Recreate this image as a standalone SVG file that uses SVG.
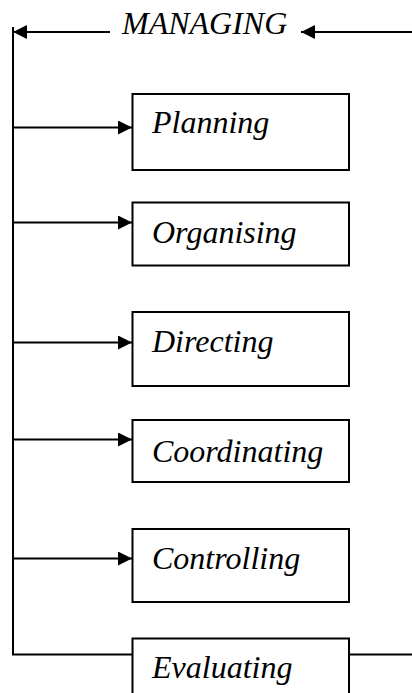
<svg xmlns="http://www.w3.org/2000/svg" width="412" height="693" viewBox="0 0 412 693">
<defs>
<marker id="ah" markerWidth="14" markerHeight="14" refX="14" refY="7" orient="auto" markerUnits="userSpaceOnUse">
<path d="M0,0 L14,7 L0,14 Z" fill="#000"/>
</marker>
</defs>
<style>
.ln{stroke:#000;stroke-width:2;fill:none}
.bx{stroke:#000;stroke-width:2;fill:#fff}
text{font-family:'Liberation Serif','Times New Roman',serif;font-style:italic;font-size:32px;fill:#000}
</style>
<g id="connectors">
<line class="ln" x1="110" y1="32" x2="13" y2="32" marker-end="url(#ah)"/>
<line class="ln" x1="412" y1="32" x2="301" y2="32" marker-end="url(#ah)"/>
<line class="ln" x1="13" y1="27" x2="13" y2="655"/>
<line class="ln" x1="13" y1="127.5" x2="132" y2="127.5" marker-end="url(#ah)"/>
<line class="ln" x1="13" y1="222.5" x2="132" y2="222.5" marker-end="url(#ah)"/>
<line class="ln" x1="13" y1="342.5" x2="132" y2="342.5" marker-end="url(#ah)"/>
<line class="ln" x1="13" y1="439.5" x2="132" y2="439.5" marker-end="url(#ah)"/>
<line class="ln" x1="13" y1="558.5" x2="132" y2="558.5" marker-end="url(#ah)"/>
<line class="ln" x1="12" y1="654.5" x2="132" y2="654.5"/>
<line class="ln" x1="349" y1="654.5" x2="412" y2="654.5"/>
</g>
<g id="managing"><text x="122" y="34">MANAGING</text></g>
<g id="planning"><rect class="bx" x="132.5" y="94" width="216.5" height="76"/><text x="152" y="133">Planning</text></g>
<g id="organising"><rect class="bx" x="132.5" y="202.5" width="216.5" height="63"/><text x="152" y="243">Organising</text></g>
<g id="directing"><rect class="bx" x="132.5" y="312" width="216.5" height="74"/><text x="152" y="352">Directing</text></g>
<g id="coordinating"><rect class="bx" x="132.5" y="420" width="216.5" height="62"/><text x="152" y="462">Coordinating</text></g>
<g id="controlling"><rect class="bx" x="132.5" y="529" width="216.5" height="73"/><text x="152" y="569">Controlling</text></g>
<g id="evaluating"><rect class="bx" x="132.5" y="638.5" width="216.5" height="70"/><text x="152" y="678">Evaluating</text></g>
</svg>
